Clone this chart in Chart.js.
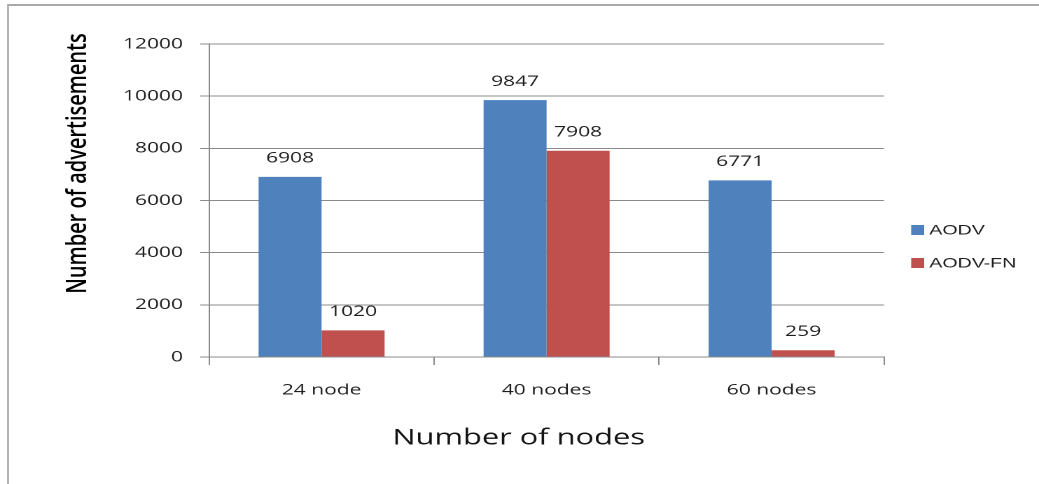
<!DOCTYPE html>
<html>
<head>
<meta charset="utf-8">
<script src="https://cdn.jsdelivr.net/npm/chart.js@4.4.1/dist/chart.umd.min.js"></script>
<style>
  html, body { margin: 0; padding: 0; background: #ffffff; width: 1039px; height: 484px; overflow: hidden; }
  #frame { position: absolute; left: 7px; top: 4px; width: 1040px; height: 490px;
           border-top: 2px solid #a9a9a9; border-left: 2px solid #b4b4b4; }
  /* the chart is laid out narrow and widened horizontally, like the original sheet export */
  #stage { position: absolute; left: 0; top: 0; width: 742px; height: 484px;
           transform: scaleX(1.40027); transform-origin: 0 0; }
</style>
</head>
<body>
<div id="frame"></div>
<div id="stage"><canvas id="c" width="742" height="484"></canvas></div>
<script>
// Advertisements counted per network size
const categories = ['24 node', '40 nodes', '60 nodes'];
const aodv = [6908, 9847, 6771];
const aodvFn = [1020, 7908, 259];
const yTicks = [0, 2000, 4000, 6000, 8000, 10000, 12000];
const seriesNames = ['AODV', 'AODV-FN'];
const xTitle = 'Number of nodes';
const yTitle = 'Number of advertisements';

const BLUE = '#4f81bd';
const RED = '#c0504d';
const GRID = '#8a8a8a';
const TEXT = '#1e1e1e';

// value labels, legend and axis titles
const decor = {
  id: 'decor',
  afterDatasetsDraw(chart) {
    const ctx = chart.ctx;
    ctx.save();
    ctx.fillStyle = TEXT;
    ctx.font = '15px "Open Sans"';
    ctx.textAlign = 'center';
    ctx.textBaseline = 'middle';
    chart.data.datasets.forEach((ds, i) => {
      chart.getDatasetMeta(i).data.forEach((bar, j) => {
        ctx.fillText(String(ds.data[j]), bar.x, bar.y - 18.5);
      });
    });

    // legend at the right of the plot
    ctx.font = '14px "Liberation Sans", Arial, sans-serif';
    ctx.textAlign = 'left';
    chart.data.datasets.forEach((ds, i) => {
      const cy = 230 + i * 33;
      ctx.fillStyle = ds.backgroundColor;
      ctx.fillRect(650.7, cy - 5, 9.3, 10);
      ctx.fillStyle = TEXT;
      ctx.fillText(ds.label, 663.6, cy + 0.5);
    });

    // axis titles
    ctx.fillStyle = '#141414';
    ctx.textAlign = 'center';
    ctx.font = '22px "Open Sans"';
    ctx.fillText(xTitle, 370.4, 438);
    ctx.save();
    ctx.translate(55.7, 163.5);
    ctx.rotate(-Math.PI / 2);
    ctx.fillStyle = '#000000';
    ctx.font = '600 20px "Open Sans"';
    ctx.fillText(yTitle, 0, 0);
    ctx.restore();
    ctx.restore();
  }
};

new Chart(document.getElementById('c'), {
  type: 'bar',
  data: {
    labels: categories,
    datasets: [
      { label: seriesNames[0], data: aodv, backgroundColor: BLUE },
      { label: seriesNames[1], data: aodvFn, backgroundColor: RED }
    ]
  },
  options: {
    responsive: false,
    animation: false,
    devicePixelRatio: 2,
    layout: { padding: { left: 0, top: 44, right: 110.6, bottom: 0 } },
    categoryPercentage: 0.56,
    barPercentage: 1.0,
    plugins: {
      legend: { display: false },
      title: { display: false },
      tooltip: { enabled: false }
    },
    scales: {
      x: {
        afterFit(s) { s.height = 127; },
        grid: { offset: true, drawOnChartArea: false, color: GRID, tickLength: 8, lineWidth: 1 },
        border: { color: GRID, width: 1 },
        ticks: { color: TEXT, padding: 16, font: { family: 'Open Sans', size: 15 } }
      },
      y: {
        min: 0,
        max: 12000,
        afterFit(s) { s.width = 149.3; },
        afterBuildTicks(s) { s.ticks = yTicks.map(v => ({ value: v })); },
        grid: { color: GRID, tickLength: 6.4, lineWidth: 1 },
        border: { color: GRID, width: 1 },
        ticks: {
          color: TEXT, padding: 12.2, font: { family: 'Open Sans', size: 15 },
          callback: v => String(v)
        }
      }
    }
  },
  plugins: [decor]
});
</script>
</body>
</html>
